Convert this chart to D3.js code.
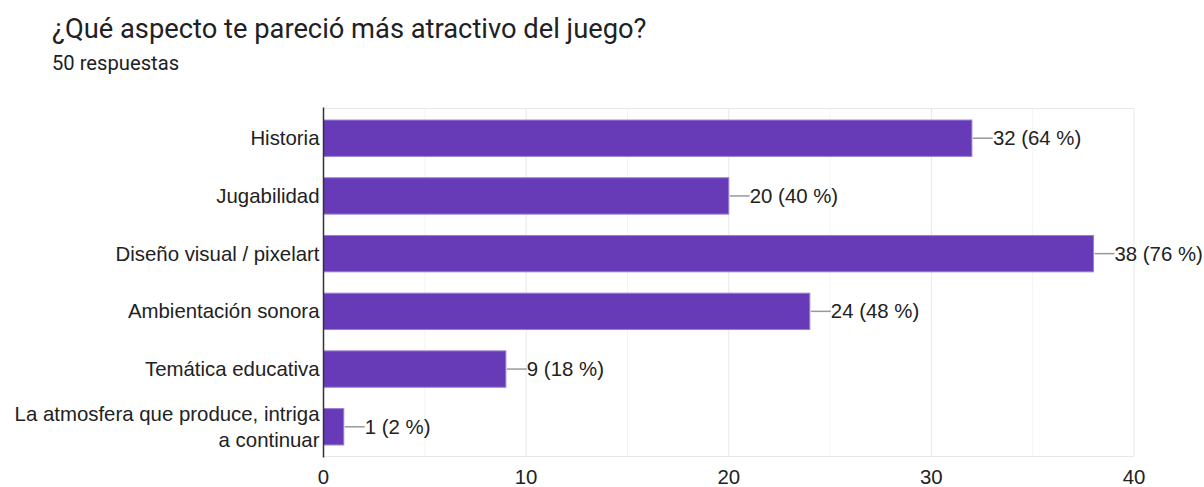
<!DOCTYPE html>
<html>
<head>
<meta charset="utf-8">
<script src="https://cdn.jsdelivr.net/npm/d3@7"></script>
<style>
  body { margin: 0; background: #fff; }
  svg text { font-family: "Liberation Sans", Arial, sans-serif; fill: #222; }
</style>
</head>
<body>
<svg width="1204" height="487"></svg>
<script>
const categories = [
  ["Historia"],
  ["Jugabilidad"],
  ["Diseño visual / pixelart"],
  ["Ambientación sonora"],
  ["Temática educativa"],
  ["La atmosfera que produce, intriga", "a continuar"],
];
const counts = [32, 20, 38, 24, 9, 1];
const percents = [64, 40, 76, 48, 18, 2];
const ticks = [0, 10, 20, 30, 40];

const svg = d3.select("svg");

svg.append("text")
  .attr("x", 52).attr("y", 37.5)
  .style("font-family", "Roboto, sans-serif")
  .style("font-size", "27.3px")
  .style("fill", "#202124")
  .text("¿Qué aspecto te pareció más atractivo del juego?");

svg.append("text")
  .attr("x", 52).attr("y", 70)
  .style("font-family", "Roboto, sans-serif")
  .style("font-size", "20.2px")
  .style("fill", "#202124")
  .text("50 respuestas");

const plotLeft = 323.5, plotRight = 1134, plotTop = 108.5, plotBottom = 456.5;
const fontSize = 20.4;

const x = d3.scaleLinear().domain([0, 40]).range([plotLeft, plotRight]);
const y = d3.scaleBand()
  .domain(d3.range(categories.length))
  .range([plotTop, plotBottom])
  .paddingInner(0.37)
  .paddingOuter(0.2);

// minor gridlines
svg.append("g").selectAll("line")
  .data(d3.range(5, 40, 10))
  .join("line")
  .attr("x1", d => x(d)).attr("x2", d => x(d))
  .attr("y1", plotTop).attr("y2", plotBottom)
  .attr("stroke", "#f3f3f3");

// major gridlines
svg.append("g").selectAll("line")
  .data(ticks.slice(1))
  .join("line")
  .attr("x1", d => x(d)).attr("x2", d => x(d))
  .attr("y1", plotTop).attr("y2", plotBottom)
  .attr("stroke", "#e8e8e8");

svg.append("line")
  .attr("x1", plotLeft).attr("x2", plotRight)
  .attr("y1", plotTop).attr("y2", plotTop)
  .attr("stroke", "#e8e8e8");
svg.append("line")
  .attr("x1", plotLeft).attr("x2", plotRight)
  .attr("y1", plotBottom).attr("y2", plotBottom)
  .attr("stroke", "#e8e8e8");

// bars
svg.append("g").selectAll("rect")
  .data(counts)
  .join("rect")
  .attr("x", plotLeft)
  .attr("y", (d, i) => y(i))
  .attr("width", d => x(d) - plotLeft)
  .attr("height", y.bandwidth())
  .attr("fill", "#673ab7")
  .attr("stroke", "#9a7fd1")
  .attr("stroke-width", 1);

// leader lines
svg.append("g").selectAll("line")
  .data(counts)
  .join("line")
  .attr("x1", d => x(d) + 1)
  .attr("x2", d => x(d) + 21)
  .attr("y1", (d, i) => y(i) + y.bandwidth() / 2)
  .attr("y2", (d, i) => y(i) + y.bandwidth() / 2)
  .attr("stroke", "#999")
  .attr("stroke-width", 1.5);

// value labels
svg.append("g").selectAll("text")
  .data(counts)
  .join("text")
  .attr("x", d => x(d) + 21)
  .attr("y", (d, i) => y(i) + y.bandwidth() / 2)
  .attr("dy", "0.35em")
  .style("font-size", fontSize + "px")
  .text((d, i) => `${d} (${percents[i]} %)`);

// category labels
const cat = svg.append("g").selectAll("text")
  .data(categories)
  .join("text")
  .attr("text-anchor", "end")
  .style("font-size", fontSize + "px")
  .attr("y", (d, i) => y(i) + y.bandwidth() / 2);
cat.selectAll("tspan")
  .data(d => d.map((t, j) => ({ t, j, n: d.length })))
  .join("tspan")
  .attr("x", plotLeft - 4)
  .attr("dy", d => d.j === 0 ? (d.n > 1 ? "-0.29em" : "0.35em") : "1.28em")
  .text(d => d.t);

// y axis line
svg.append("line")
  .attr("x1", plotLeft).attr("x2", plotLeft)
  .attr("y1", plotTop - 1).attr("y2", plotBottom + 1)
  .attr("stroke", "#333")
  .attr("stroke-width", 1.5);

// x tick labels
svg.append("g").selectAll("text")
  .data(ticks)
  .join("text")
  .attr("x", d => x(d))
  .attr("y", 484)
  .attr("text-anchor", "middle")
  .style("font-size", fontSize + "px")
  .text(d => d);
</script>
</body>
</html>
